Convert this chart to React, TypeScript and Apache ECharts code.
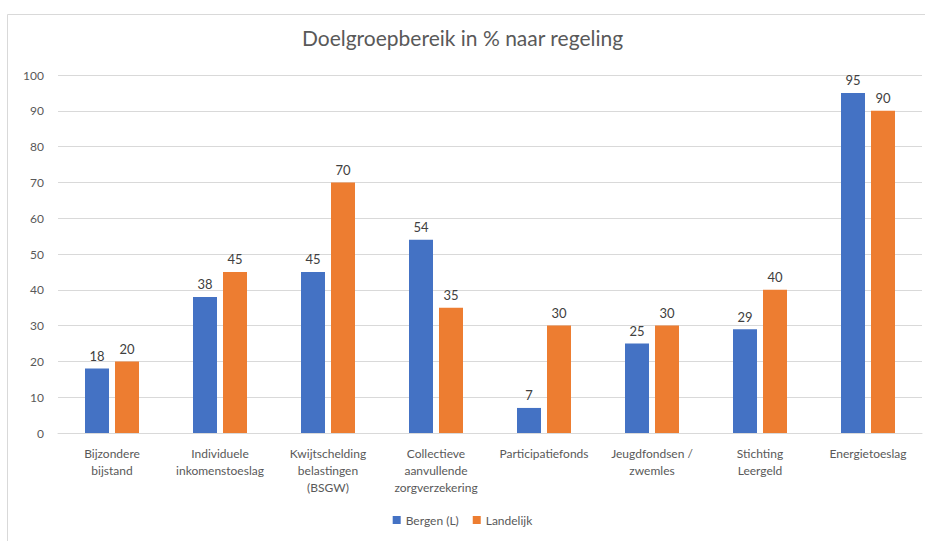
import React, { useEffect, useRef } from "react";
import * as echarts from "echarts";

const categories = [
  "Bijzondere\nbijstand",
  "Individuele\ninkomenstoeslag",
  "Kwijtschelding\nbelastingen\n(BSGW)",
  "Collectieve\naanvullende\nzorgverzekering",
  "Participatiefonds",
  "Jeugdfondsen /\nzwemles",
  "Stichting\nLeergeld",
  "Energietoeslag",
];
const bergen = [18, 38, 45, 54, 7, 25, 29, 95];
const landelijk = [20, 45, 70, 35, 30, 30, 40, 90];
const seriesNames = ["Bergen (L)", "Landelijk"];

export default function App() {
  const ref = useRef<HTMLDivElement>(null);
  useEffect(() => {
    const chart = echarts.init(ref.current!, null, { renderer: "svg" });
    const font = "Lato, 'Open Sans', sans-serif";
    const label = {
      show: true,
      position: "top",
      distance: 6,
      color: "#404040",
      fontSize: 13,
      fontFamily: font,
    };
    chart.setOption({
      animation: false,
      backgroundColor: "#fff",
      title: {
        text: "Doelgroepbereik in % naar regeling",
        left: "center",
        top: 22,
        textStyle: { color: "#595959", fontSize: 21, fontWeight: "normal", fontFamily: font },
      },
      graphic: [
        {
          type: "rect",
          shape: { x: 7.5, y: 14.5, width: 930, height: 540 },
          style: { fill: "none", stroke: "#d9d9d9", lineWidth: 1 },
          silent: true,
        },
      ],
      legend: {
        bottom: 10,
        left: "center",
        itemWidth: 8,
        itemHeight: 8,
        itemGap: 14,
        icon: "rect",
        textStyle: { color: "#595959", fontSize: 12, fontFamily: font },
        data: seriesNames,
      },
      grid: { left: 58, right: 3, top: 75, bottom: 108 },
      xAxis: {
        type: "category",
        data: categories,
        axisTick: { show: false },
        axisLine: { lineStyle: { color: "#d9d9d9" } },
        axisLabel: {
          interval: 0,
          color: "#595959",
          fontSize: 12,
          fontFamily: font,
          lineHeight: 17,
          margin: 12,
        },
      },
      yAxis: {
        type: "value",
        min: 0,
        max: 100,
        interval: 10,
        axisLabel: { color: "#595959", fontSize: 12, fontFamily: font, margin: 14 },
        splitLine: { lineStyle: { color: "#d9d9d9" } },
        axisLine: { show: false },
        axisTick: { show: false },
      },
      series: [
        {
          name: seriesNames[0],
          type: "bar",
          data: bergen,
          barWidth: 24,
          barGap: "25%",
          itemStyle: { color: "#4472C4" },
          label,
        },
        {
          name: seriesNames[1],
          type: "bar",
          data: landelijk,
          barWidth: 24,
          barGap: "25%",
          itemStyle: { color: "#ED7D31" },
          label,
        },
      ],
    });
    return () => chart.dispose();
  }, []);
  return (
    <div
      ref={ref}
      style={{ position: "fixed", left: 0, top: 0, width: 925, height: 541 }}
    />
  );
}
